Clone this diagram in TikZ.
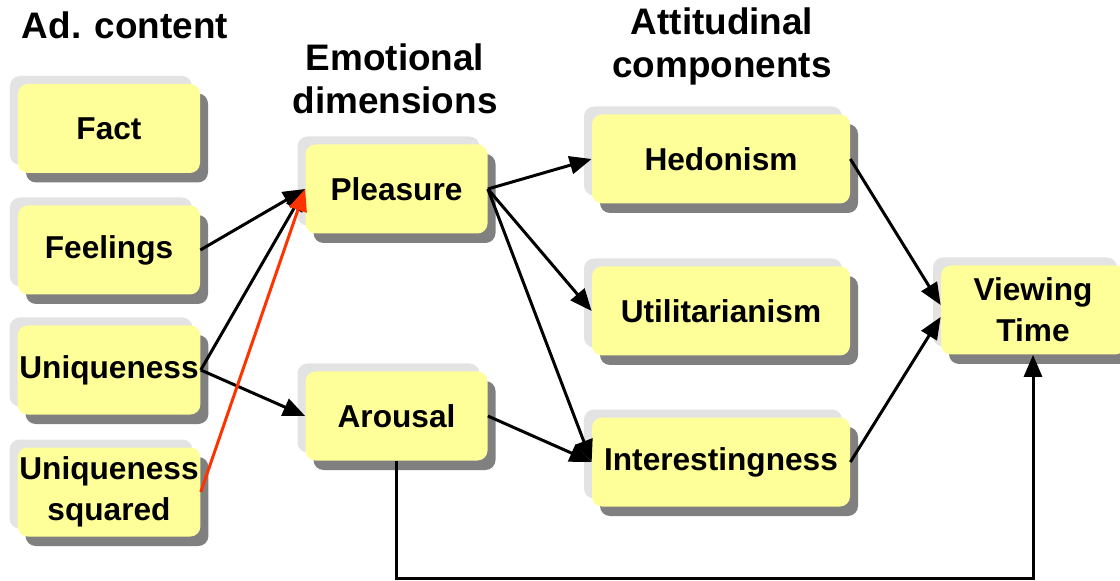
\documentclass[tikz,border=0pt]{standalone}
\usepackage{fontspec}
\setmainfont{Liberation Sans}
\usetikzlibrary{arrows.meta,shadows}
\definecolor{boxYellow}{RGB}{255,255,153}
\definecolor{shadowLight}{RGB}{227,227,227}
\definecolor{shadowDark}{RGB}{128,128,128}
\definecolor{arrowRed}{RGB}{255,51,0}
\begin{document}
\begin{tikzpicture}[
rectBox/.style={rectangle, fill=boxYellow, rounded corners=2mm, minimum width=36.4mm, minimum height=17.8mm, align=center, inner sep=1pt, font=\fontsize{18}{23.5}\selectfont\bfseries,
  general shadow={fill=shadowLight, shadow xshift=-1.6mm, shadow yshift=1.6mm},
  general shadow={fill=shadowDark, shadow xshift=1.6mm, shadow yshift=-1.9mm}},
rectWide/.style={rectBox, minimum width=51.6mm},
rectEnd/.style={rectBox, minimum width=36.8mm},
rectTitle/.style={align=center, font=\fontsize{21}{24.5}\selectfont\bfseries},
arrowLine/.style={-{Triangle[length=4.4mm, width=3.6mm]}, line width=1.7pt}]

\useasboundingbox (0,0) rectangle (22.4,11.6);

\node[rectTitle] (titleContent) at (2.5, 11.1) {Ad. content};
\node[rectTitle] (titleEmotion) at (7.9, 10.02) {Emotional\\dimensions};
\node[rectTitle] (titleAttitude) at (14.44, 10.67) {Attitudinal\\components};

\node[rectBox] (fact) at (2.18, 9.03) {Fact};
\node[rectBox] (feelings) at (2.18, 6.6) {Feelings};
\node[rectBox] (uniqueness) at (2.18, 4.2) {Uniqueness};
\node[rectBox] (uniqSquared) at (2.18, 1.76) {Uniqueness\\squared};

\node[rectBox] (pleasure) at (7.93, 7.82) {Pleasure};
\node[rectBox] (arousal) at (7.93, 3.28) {Arousal};

\node[rectWide] (hedonism) at (14.42, 8.42) {Hedonism};
\node[rectWide] (utilitarian) at (14.42, 5.38) {Utilitarianism};
\node[rectWide] (interest) at (14.42, 2.36) {Interestingness};

\node[rectEnd] (viewTime) at (20.66, 5.4) {Viewing\\Time};


\path[arrowLine] (feelings.east)    edge                 node {} (pleasure.west)
            (uniqueness.east)  edge                 node {} (pleasure.west)
            (uniqueness.east)  edge                 node {} (arousal.west)
            (uniqSquared.east) edge [arrowRed]      node {} (pleasure.west)
            (pleasure.east)    edge                 node {} (hedonism.west)
            (pleasure.east)    edge                 node {} (utilitarian.west)
            (pleasure.east)    edge                 node {} (interest.west)
            (arousal.east)     edge                 node {} (interest.west)
            (hedonism.east)    edge                 node {} ([yshift=1mm]viewTime.west)
            (interest.east)    edge                 node {} ([yshift=-1.4mm]viewTime.west);

\draw[arrowLine] (arousal.south) -- ++(0,-2.36) -| (viewTime.south);


\end{tikzpicture}
\end{document}
